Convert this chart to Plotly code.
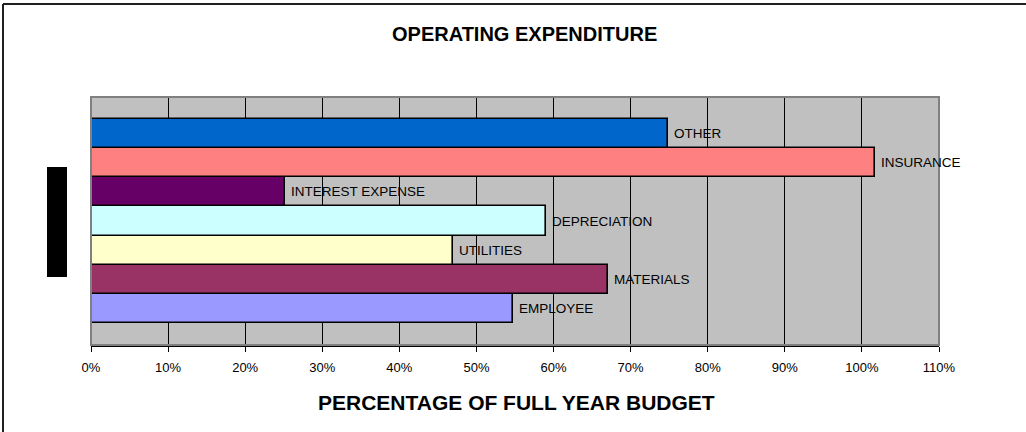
import plotly.graph_objects as go

# ---- data (bottom to top) ----
categories = ["EMPLOYEE", "MATERIALS", "UTILITIES", "DEPRECIATION",
              "INTEREST EXPENSE", "INSURANCE", "OTHER"]
values = [0.548, 0.670, 0.469, 0.590, 0.252, 1.017, 0.748]
bar_colors = ["#9999FF", "#993366", "#FFFFCC", "#CCFFFF",
              "#660066", "#FF8080", "#0066CC"]
tick_vals = [i / 10 for i in range(12)]
tick_text = [f"{i * 10}%" for i in range(12)]

W, H = 1026, 432
L, R, T, B = 91, 87, 97, 87
PW, PH = W - L - R, H - T - B

def px(xp):
    return (xp - L) / PW

def py(yp):
    return 1 - (yp - T) / PH

FONT = "Liberation Sans, Arial, sans-serif"

fig = go.Figure()
fig.add_trace(go.Bar(
    y=categories, x=values, orientation="h",
    marker=dict(color=bar_colors, line=dict(color="#000000", width=1.6)),
    hoverinfo="skip", showlegend=False,
))

annotations = []
for c, v in zip(categories, values):
    annotations.append(dict(
        x=v, y=c, xref="x", yref="y", text=c, showarrow=False,
        xanchor="left", yanchor="middle", xshift=4,
        font=dict(family=FONT, size=13.5, color="#000000"),
    ))
annotations.append(dict(
    x=px(524), y=py(34), xref="paper", yref="paper",
    text="<b>OPERATING EXPENDITURE</b>", showarrow=False,
    xanchor="center", yanchor="middle",
    font=dict(family=FONT, size=20, color="#000000"),
))
annotations.append(dict(
    x=px(516), y=py(402), xref="paper", yref="paper",
    text="<b>PERCENTAGE OF FULL YEAR BUDGET</b>", showarrow=False,
    xanchor="center", yanchor="middle",
    font=dict(family=FONT, size=21, color="#000000"),
))

shapes = [
    # plot area border
    dict(type="rect", xref="paper", yref="paper", x0=0, x1=1, y0=0, y1=1,
         line=dict(color="#808080", width=2), layer="above"),
    # black box at left
    dict(type="rect", xref="paper", yref="paper",
         x0=px(47), x1=px(67), y0=py(277), y1=py(167),
         fillcolor="#000000", line=dict(width=0)),
    # outer chart border (top and left)
    dict(type="line", xref="paper", yref="paper",
         x0=px(3), x1=px(1030), y0=py(4), y1=py(4),
         line=dict(color="#202020", width=2)),
    dict(type="line", xref="paper", yref="paper",
         x0=px(3), x1=px(3), y0=py(4), y1=py(440),
         line=dict(color="#202020", width=2)),
]

fig.update_layout(
    width=W, height=H,
    margin=dict(l=L, r=R, t=T, b=B),
    paper_bgcolor="#FFFFFF", plot_bgcolor="#C0C0C0",
    bargap=0,
    annotations=annotations, shapes=shapes,
    font=dict(family=FONT, size=13, color="#000000"),
)
fig.update_xaxes(
    range=[0, 1.1], tickvals=tick_vals, ticktext=tick_text,
    showgrid=True, gridcolor="#000000", gridwidth=1,
    showline=True, linecolor="#000000", linewidth=2,
    ticks="outside", ticklen=5, tickcolor="#000000",
    ticklabelstandoff=4, zeroline=False,
    tickfont=dict(family=FONT, size=13, color="#000000"),
)
fig.update_yaxes(
    range=[-1.25, 7.25], showticklabels=False, showgrid=False,
    zeroline=False, showline=False, ticks="",
)

fig.write_html("out.html")
